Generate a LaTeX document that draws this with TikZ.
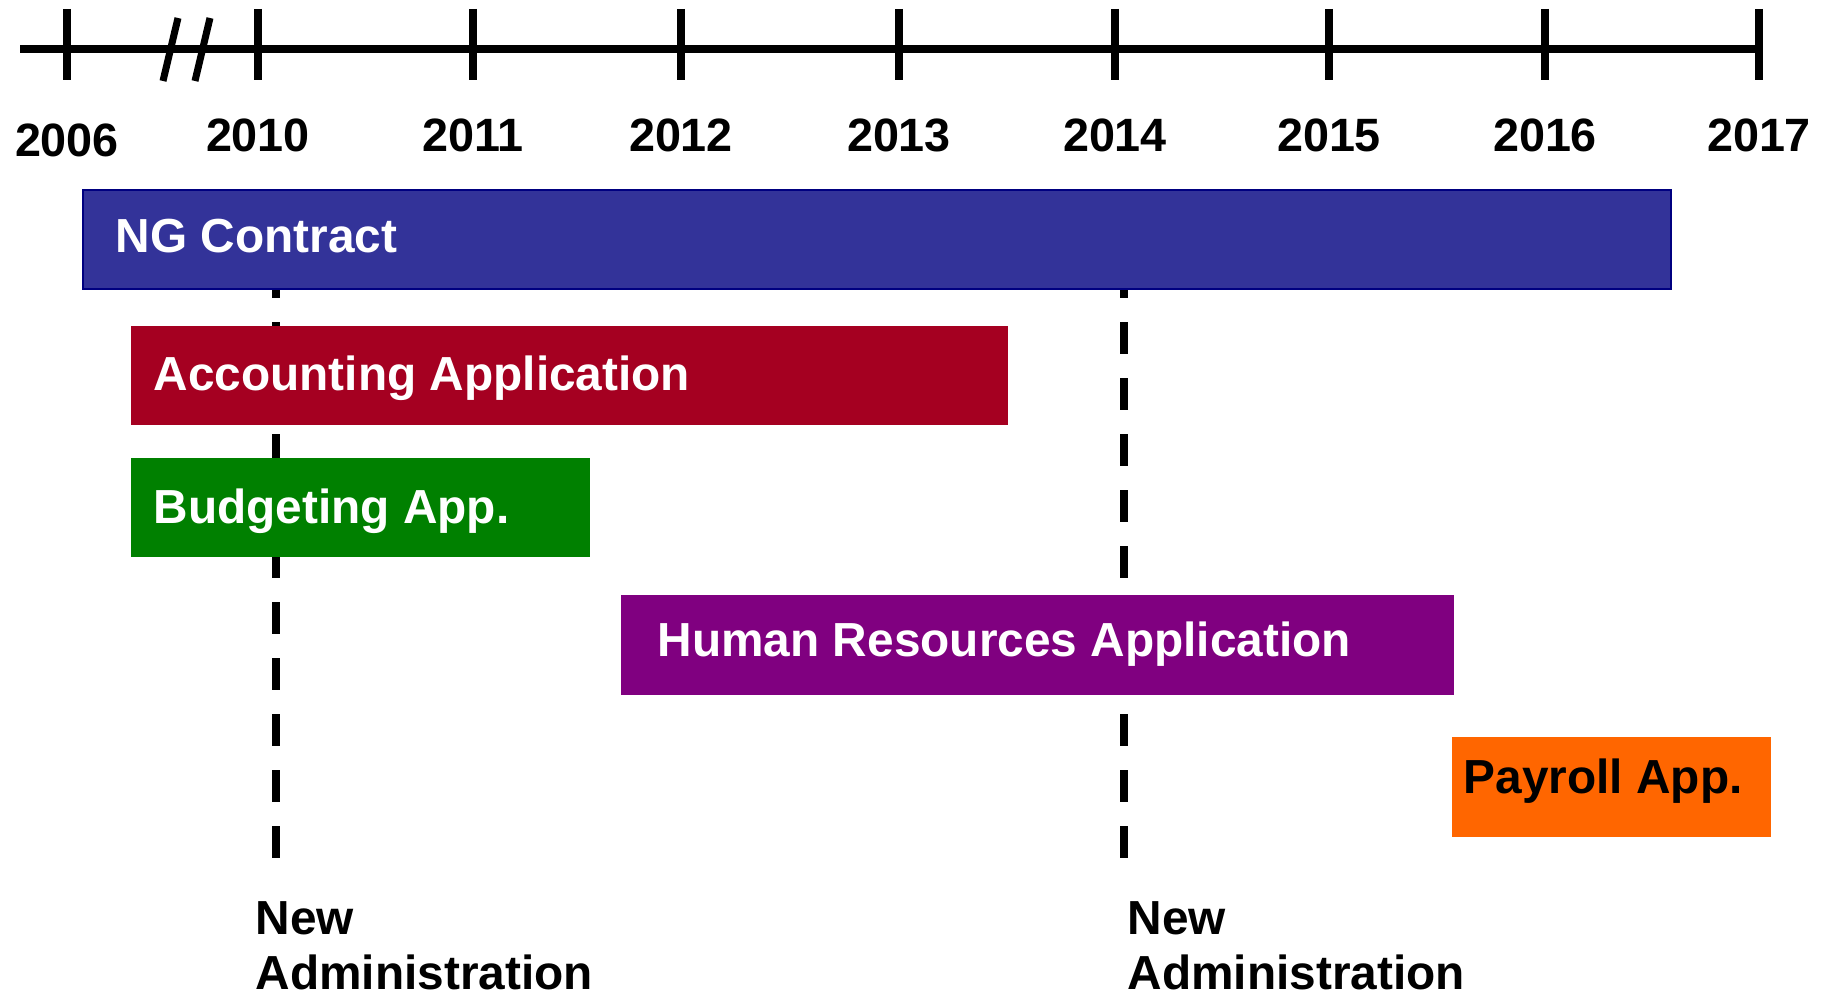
\documentclass[tikz,border=0pt]{standalone}
\usepackage{fontspec}
\setmainfont{Liberation Sans}
\usepackage{tikz}
\definecolor{ngblue}{RGB}{51,51,153}
\definecolor{ngline}{RGB}{0,0,128}
\definecolor{accred}{RGB}{165,0,33}
\definecolor{budgreen}{RGB}{0,128,0}
\definecolor{hrpurple}{RGB}{128,0,128}
\definecolor{payorange}{RGB}{255,102,0}
\tikzset{
	bar/.style={rectangle, inner sep=0pt, anchor=north west},
	lbl/.style={anchor=base west, inner sep=0pt, font=\bfseries\fontsize{13.6}{15.9}\selectfont},
	yr/.style={anchor=base, inner sep=0pt, font=\bfseries\fontsize{13.3}{15.9}\selectfont},
	admin/.style={line width=0.8mm, dash pattern=on 3.2mm off 2.4mm},
}

\begin{document}
\begin{tikzpicture}[x=0.1mm, y=-0.1mm]
		%%%%% START %%%%%
		\useasboundingbox (0, 0) rectangle (1831, 999);
		
		% time axis
		\draw[line width=0.75mm] (20, 49) -- (1760, 49);
		\foreach \x/\yb/\year in {67/157/2006, 258/152/2010, 473/152/2011, 681/152/2012, 899/152/2013, 1115/152/2014, 1329/152/2015, 1545/152/2016, 1759/152/2017}
		{
			\draw[line width=0.8mm] (\x, 9) -- (\x, 80);
			\node[yr] (y\year) at (\x, \yb) {\year};
		}
		\draw[line width=0.7mm] (163, 81) -- (178, 18);
		\draw[line width=0.7mm] (195, 81) -- (210, 18);
		
		% new administrations
		\coordinate (adma) at (276, 858);
		\coordinate (admb) at (1124, 858);
		\draw[admin] (adma) -- (276, 250);
		\draw[admin] (admb) -- (1124, 250);
		\node[lbl, align=left] (newa) at (255, 990) {New\\Administration};
		\node[lbl, align=left] (newb) at (1127, 990) {New\\Administration};
		
		% contract and applications
		\node[bar, fill=ngblue, draw=ngline, line width=0.2mm, minimum width=158.8mm, minimum height=9.9mm] (ng) at (82, 189) {};
		\node[lbl, white] (ngtxt) at (115, 253) {NG Contract};
		
		\node[bar, fill=accred, minimum width=87.7mm, minimum height=9.9mm] (acc) at (130, 325) {};
		\node[lbl, white] (acctxt) at (153, 391) {Accounting Application};
		
		\node[bar, fill=budgreen, minimum width=45.9mm, minimum height=9.9mm] (bud) at (130, 457) {};
		\node[lbl, white] (budtxt) at (153, 524) {Budgeting App.};
		
		\node[bar, fill=hrpurple, minimum width=83.3mm, minimum height=10mm] (hr) at (620, 594) {};
		\node[lbl, white] (hrtxt) at (657, 657) {Human Resources Application};
		
		\node[bar, fill=payorange, minimum width=31.9mm, minimum height=10mm] (pay) at (1451, 736) {};
		\node[lbl] (paytxt) at (1463, 794) {Payroll App.};
		%%%%% END %%%%%
	\end{tikzpicture}
\end{document}
